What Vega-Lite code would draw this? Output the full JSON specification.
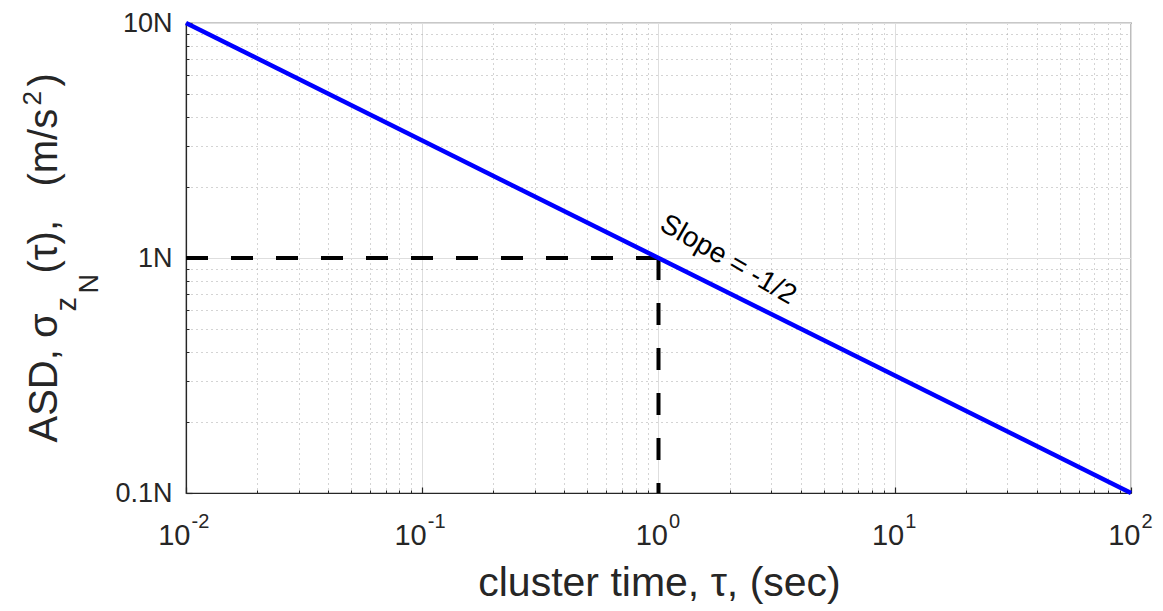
{
  "$schema": "https://vega.github.io/schema/vega-lite/v6.json",
  "width": 945,
  "height": 470,
  "autosize": {"type": "none"},
  "padding": {"left": 186, "top": 23, "right": 32, "bottom": 118},
  "background": "white",
  "config": {
    "view": {"stroke": "#262626", "strokeWidth": 1.2},
    "font": "Liberation Sans"
  },
  "datasets": {
    "asd": [
      {"tau": 0.01, "asd": 10},
      {"tau": 100, "asd": 0.1}
    ],
    "guides": [
      {"seg": "h", "ord": 1, "tau": 0.01, "asd": 1},
      {"seg": "h", "ord": 2, "tau": 1, "asd": 1},
      {"seg": "v", "ord": 1, "tau": 1, "asd": 1},
      {"seg": "v", "ord": 2, "tau": 1, "asd": 0.1}
    ],
    "note": [
      {"tau": 1.97, "asd": 0.98, "label": "Slope = -1/2"}
    ]
  },
  "resolve": {"axis": {"x": "independent", "y": "independent"}},
  "layer": [
    {
      "data": {"name": "asd"},
      "mark": {"type": "line", "opacity": 0},
      "encoding": {
        "x": {
          "field": "tau", "type": "quantitative",
          "scale": {"type": "log", "domain": [0.01, 100], "nice": false},
          "axis": {
            "orient": "bottom",
            "values": [0.02,0.03,0.04,0.05,0.06,0.07,0.08,0.09,0.2,0.3,0.4,0.5,0.6,0.7,0.8,0.9,2,3,4,5,6,7,8,9,20,30,40,50,60,70,80,90],
            "labels": false, "domain": false, "title": null,
            "grid": true, "gridColor": "#a8a8a8", "gridDash": [1, 4], "gridWidth": 1,
            "ticks": true, "tickSize": -3, "tickColor": "#262626"
          }
        },
        "y": {
          "field": "asd", "type": "quantitative",
          "scale": {"type": "log", "domain": [0.1, 10], "nice": false},
          "axis": {
            "orient": "left",
            "values": [0.2,0.3,0.4,0.5,0.6,0.7,0.8,0.9,2,3,4,5,6,7,8,9],
            "labels": false, "domain": false,
            "grid": true, "gridColor": "#a8a8a8", "gridDash": [1, 4], "gridWidth": 1,
            "ticks": true, "tickSize": -3, "tickColor": "#262626",
            "title": "(τ), \u00a0\u00a0(m/s",
            "titleFontSize": 40, "titleFontWeight": "normal", "titleColor": "#262626",
            "titleAngle": -90, "titleAlign": "left", "titleBaseline": "alphabetic",
            "titleX": -130, "titleY": 250
          }
        }
      }
    },
    {
      "data": {"name": "guides"},
      "mark": {"type": "line", "color": "black", "strokeWidth": 4, "strokeDash": [22, 23]},
      "encoding": {
        "x": {
          "field": "tau", "type": "quantitative",
          "scale": {"type": "log", "domain": [0.01, 100], "nice": false},
          "axis": {
            "orient": "bottom",
            "values": [0.01, 0.1, 1, 10, 100],
            "labelExpr": "'10'",
            "labelFontSize": 29, "labelColor": "#262626", "labelPadding": 51,
            "labelAlign": "right", "labelBaseline": "alphabetic",
            "labelOffset": {"condition": {"test": "datum.value < 0.5", "value": 4}, "value": 9},
            "labelFlush": false, "labelOverlap": false,
            "domain": true, "domainColor": "#262626", "domainWidth": 1.2,
            "grid": true, "gridColor": "#dedede", "gridWidth": 1,
            "ticks": false, "tickSize": 0,
            "title": "cluster time, τ, (sec)",
            "titleFontSize": 41, "titleFontWeight": "normal", "titleColor": "#262626",
            "titleAlign": "center", "titleBaseline": "alphabetic",
            "titleX": 473, "titleY": 102
          }
        },
        "y": {
          "field": "asd", "type": "quantitative",
          "scale": {"type": "log", "domain": [0.1, 10], "nice": false},
          "axis": {
            "orient": "left",
            "values": [0.1, 1, 10],
            "labelExpr": "datum.value > 5 ? '10N' : datum.value > 0.5 ? '1N' : '0.1N'",
            "labelFontSize": 27, "labelColor": "#262626", "labelPadding": 14,
            "labelFlush": false, "labelOverlap": false,
            "domain": true, "domainColor": "#262626", "domainWidth": 1.2,
            "grid": true, "gridColor": "#dedede", "gridWidth": 1,
            "ticks": false, "tickSize": 0,
            "title": "ASD, σ",
            "titleFontSize": 40, "titleFontWeight": "normal", "titleColor": "#262626",
            "titleAngle": -90, "titleAlign": "left", "titleBaseline": "alphabetic",
            "titleX": -130, "titleY": 419
          }
        },
        "detail": {"field": "seg"},
        "order": {"field": "ord"}
      }
    },
    {
      "data": {"name": "asd"},
      "mark": {"type": "line", "color": "#0000ff", "strokeWidth": 4.5},
      "encoding": {
        "x": {
          "field": "tau", "type": "quantitative",
          "scale": {"type": "log", "domain": [0.01, 100], "nice": false},
          "axis": {
            "orient": "bottom",
            "values": [0.01, 0.1, 1, 10, 100],
            "labels": false, "domain": false, "grid": false, "title": null,
            "ticks": true, "tickSize": -6, "tickColor": "#262626", "tickWidth": 1.2
          }
        },
        "y": {
          "field": "asd", "type": "quantitative",
          "scale": {"type": "log", "domain": [0.1, 10], "nice": false},
          "axis": {
            "orient": "left",
            "values": [0.1, 1, 10],
            "labels": false, "domain": false, "grid": false,
            "ticks": true, "tickSize": -6, "tickColor": "#262626", "tickWidth": 1.2,
            "title": "z",
            "titleFontSize": 29, "titleFontWeight": "normal", "titleColor": "#262626",
            "titleAngle": -90, "titleAlign": "left", "titleBaseline": "alphabetic",
            "titleX": -111, "titleY": 288
          }
        }
      }
    },
    {
      "data": {"name": "note"},
      "mark": {"type": "text", "angle": 30, "fontSize": 28, "color": "black", "align": "center", "baseline": "middle"},
      "encoding": {
        "x": {
          "field": "tau", "type": "quantitative",
          "scale": {"type": "log", "domain": [0.01, 100], "nice": false},
          "axis": {
            "orient": "bottom",
            "values": [0.01, 0.1, 1, 10, 100],
            "labelExpr": "datum.value < 0.05 ? '-2' : datum.value < 0.5 ? '-1' : datum.value < 5 ? '0' : datum.value < 50 ? '1' : '2'",
            "labelFontSize": 20, "labelColor": "#262626", "labelPadding": 34,
            "labelAlign": "left", "labelBaseline": "alphabetic",
            "labelOffset": {"condition": {"test": "datum.value < 0.5", "value": 5}, "value": 10},
            "labelFlush": false, "labelOverlap": false,
            "domain": false, "grid": false, "ticks": false, "tickSize": 0, "title": null
          }
        },
        "y": {
          "field": "asd", "type": "quantitative",
          "scale": {"type": "log", "domain": [0.1, 10], "nice": false},
          "axis": {
            "orient": "left",
            "values": [1],
            "labels": false, "domain": false, "grid": false, "ticks": false, "tickSize": 0,
            "title": "N",
            "titleFontSize": 27, "titleFontWeight": "normal", "titleColor": "#262626",
            "titleAngle": -90, "titleAlign": "left", "titleBaseline": "alphabetic",
            "titleX": -89, "titleY": 270
          }
        },
        "text": {"field": "label"}
      }
    },
    {
      "data": {"name": "asd"},
      "mark": {"type": "line", "opacity": 0},
      "encoding": {
        "x": {"field": "tau", "type": "quantitative", "scale": {"type": "log", "domain": [0.01, 100], "nice": false}, "axis": null},
        "y": {
          "field": "asd", "type": "quantitative",
          "scale": {"type": "log", "domain": [0.1, 10], "nice": false},
          "axis": {
            "orient": "left",
            "values": [1],
            "labels": false, "domain": false, "grid": false, "ticks": false, "tickSize": 0,
            "title": "2",
            "titleFontSize": 26, "titleFontWeight": "normal", "titleColor": "#262626",
            "titleAngle": -90, "titleAlign": "left", "titleBaseline": "alphabetic",
            "titleX": -146, "titleY": 82
          }
        }
      }
    },
    {
      "data": {"name": "asd"},
      "mark": {"type": "line", "opacity": 0},
      "encoding": {
        "x": {"field": "tau", "type": "quantitative", "scale": {"type": "log", "domain": [0.01, 100], "nice": false}, "axis": null},
        "y": {
          "field": "asd", "type": "quantitative",
          "scale": {"type": "log", "domain": [0.1, 10], "nice": false},
          "axis": {
            "orient": "left",
            "values": [1],
            "labels": false, "domain": false, "grid": false, "ticks": false, "tickSize": 0,
            "title": ")",
            "titleFontSize": 40, "titleFontWeight": "normal", "titleColor": "#262626",
            "titleAngle": -90, "titleAlign": "left", "titleBaseline": "alphabetic",
            "titleX": -130, "titleY": 63
          }
        }
      }
    }
  ]
}
